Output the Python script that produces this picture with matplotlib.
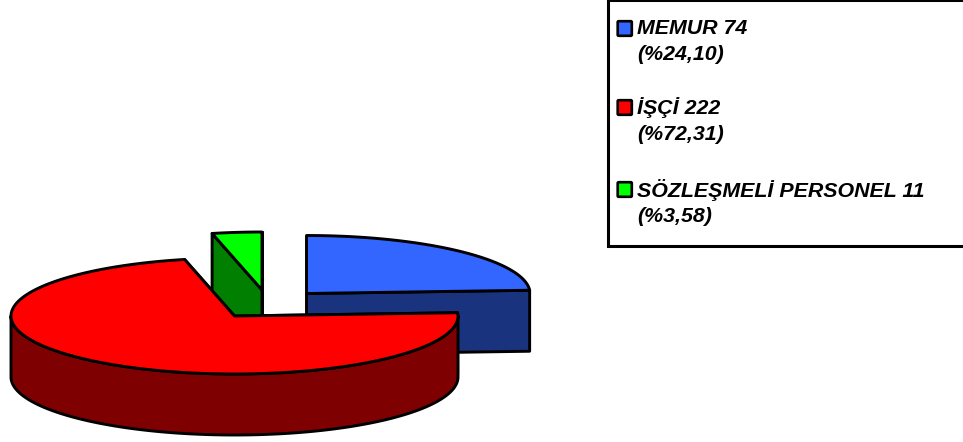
import numpy as np
import matplotlib
matplotlib.use("Agg")
import matplotlib.pyplot as plt
from matplotlib.patches import Polygon, Rectangle, FancyBboxPatch

categories = ["MEMUR", "İŞÇİ", "SÖZLEŞMELİ PERSONEL"]
values = [74, 222, 11]
percent_labels = ["%24,10", "%72,31", "%3,58"]
top_colors = ["#3366FF", "#FF0000", "#00FF00"]
side_colors = ["#1A337F", "#7F0000", "#007F00"]

W, H = 963, 442
fig = plt.figure(figsize=(W / 100, H / 100), dpi=100)
ax = fig.add_axes([0, 0, 1, 1])
ax.set_xlim(0, W)
ax.set_ylim(H, 0)
ax.axis("off")

RX, RY, DEPTH = 223.5, 58, 61
centers = [(306.5, 293.5), (234.5, 316), (262, 290)]
LW = 2.1

# slice angles, clockwise from 12 o'clock
fracs = np.array(values) / sum(values)
edges = 90 - 360 * np.concatenate([[0], np.cumsum(fracs)])


def pt(c, t, dz=0):
    t = np.asarray(t)
    return np.column_stack([c[0] + RX * np.cos(np.radians(t)),
                            c[1] - RY * np.sin(np.radians(t)) + dz])


def draw_slice(i):
    c = centers[i]
    a0, a1 = edges[i], edges[i + 1]  # a0 > a1
    ts = np.linspace(a0, a1, 200)
    arc = pt(c, ts)
    kw = dict(closed=True, edgecolor="black", linewidth=LW, joinstyle="round",
              facecolor=side_colors[i])
    # cut faces
    for a in (a0, a1):
        e = pt(c, [a])[0]
        ax.add_patch(Polygon([c, e, e + [0, DEPTH], (c[0], c[1] + DEPTH)], **kw))
    # outer wall: front portion of the rim
    lo, hi = a1, a0
    for shift in (-360, 0, 360):
        s, f = max(lo + shift, 180), min(hi + shift, 360)
        if f > s:
            tt = np.linspace(s, f, 200)
            up = pt(c, tt)
            ax.add_patch(Polygon(np.vstack([up, pt(c, tt[::-1], DEPTH)]), **kw))
    # top face
    ax.add_patch(Polygon(np.vstack([[c], arc]), closed=True, edgecolor="black",
                         linewidth=LW, joinstyle="round", facecolor=top_colors[i]))


for i in (2, 0, 1):
    draw_slice(i)

# legend
ax.add_patch(Rectangle((608, 0), 365, 246, facecolor="white", edgecolor="black",
                       linewidth=2.2, clip_on=True))
text_y = [(29, 55), (108, 134), (190, 216)]
for i, (cat, val, pct) in enumerate(zip(categories, values, percent_labels)):
    y1, y2 = text_y[i]
    ax.add_patch(FancyBboxPatch((618, y1 - 7.5), 13.5, 14,
                                boxstyle="round,pad=0.3,rounding_size=1",
                                facecolor=top_colors[i], edgecolor="black", linewidth=1.9))
    for y, s in ((y1, f"{cat} {val}"), (y2, f"({pct})")):
        ax.text(637, y, s, family="Liberation Sans", fontweight="bold", fontstyle="italic",
                fontsize=15.4, va="center", ha="left", color="black")

fig.savefig("out.png", dpi=100)
